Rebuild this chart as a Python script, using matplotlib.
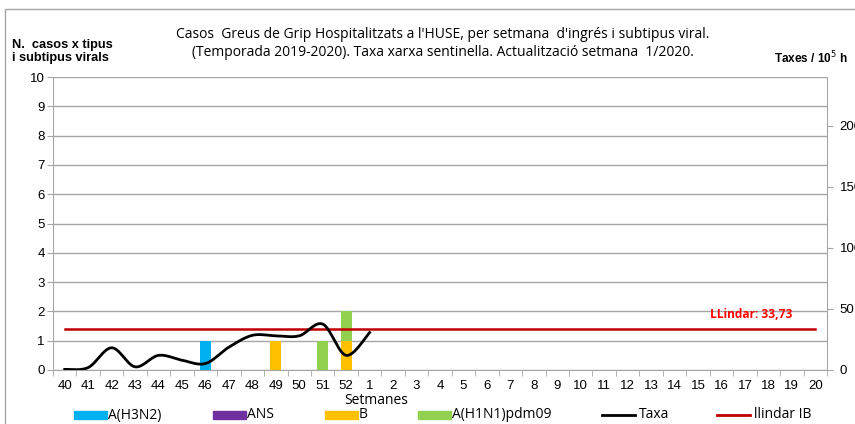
import numpy as np
import matplotlib
matplotlib.use("Agg")
import matplotlib.pyplot as plt
from matplotlib.patches import Rectangle
from matplotlib.lines import Line2D

# ---------------- data ----------------
weeks = ['40', '41', '42', '43', '44', '45', '46', '47', '48', '49', '50', '51', '52',
         '1', '2', '3', '4', '5', '6', '7', '8', '9', '10', '11', '12', '13', '14',
         '15', '16', '17', '18', '19', '20']
h3n2 = [0, 0, 0, 0, 0, 0, 1, 0, 0, 0, 0, 0, 0] + [0] * 20
ans = [0] * 33
b = [0, 0, 0, 0, 0, 0, 0, 0, 0, 1, 0, 0, 1] + [0] * 20
h1n1 = [0, 0, 0, 0, 0, 0, 0, 0, 0, 0, 0, 1, 1] + [0] * 20
taxa = [0.5, 2.0, 18.2, 2.6, 12.0, 8.0, 5.3, 18.7, 28.4, 28.0, 28.0, 37.6, 12.0, 30.7]
llindar = 33.73
llindar_label = "LLindar: 33,73"

series_names = ['A(H3N2)', 'ANS', 'B', 'A(H1N1)pdm09']
series_colors = ['#00B0F0', '#7030A0', '#FFC000', '#92D050']
taxa_color = '#000000'
llindar_color = '#C00000'

title_lines = ["Casos  Greus de Grip Hospitalitzats a l'HUSE, per setmana  d'ingrés i subtipus viral.",
               "(Temporada 2019-2020). Taxa xarxa sentinella. Actualització setmana  1/2020."]

W, H = 855, 424
fig = plt.figure(figsize=(W / 100, H / 100), dpi=100)

def fx(px):
    return px / W

def fy(py):
    return 1 - py / H

# outer chart border
fig.patches.append(Rectangle((fx(5), fy(440)), fx(870) - fx(5), fy(9) - fy(440),
                             transform=fig.transFigure, fill=False,
                             edgecolor='#A6A6A6', lw=1.0))

ax = fig.add_axes([fx(53), fy(370), fx(827) - fx(53), fy(77) - fy(370)])
ax2 = ax.twinx()
ax.set_zorder(2)
ax2.set_zorder(3)
ax.patch.set_visible(False)

x = np.arange(len(weeks))
bottom = np.zeros(len(weeks))
for vals, col in zip([h3n2, ans, b, h1n1], series_colors):
    v = np.array(vals, dtype=float)
    ax.bar(x, v, width=0.48, bottom=bottom, color=col, zorder=3)
    bottom += v

ax.set_xlim(-0.5, len(weeks) - 0.5)
ax.set_ylim(0, 10)
ax.set_yticks(range(0, 11))
ax.grid(axis='y', color='#A6A6A6', lw=1.0, zorder=0)
ax.set_axisbelow(True)
ax.spines['top'].set_visible(False)
ax.spines['left'].set_color('#A6A6A6')
ax.spines['bottom'].set_color('#A6A6A6')
ax.spines['right'].set_visible(False)

ax.set_xticks(x)
ax.set_xticklabels(weeks, fontfamily='Liberation Sans', fontsize=9.5)
ax.tick_params(axis='x', which='major', length=0, pad=7)
ax.set_xticks(np.arange(-0.5, len(weeks)), minor=True)
ax.tick_params(axis='x', which='minor', length=4, color='#A6A6A6', direction='out')
ax.tick_params(axis='y', length=4, color='#A6A6A6', pad=2)
for lab in ax.get_yticklabels():
    lab.set_fontfamily('Liberation Sans')
    lab.set_fontsize(9.5)

# right axis
ax2.set_ylim(0, 240)
ax2.set_yticks([0, 50, 100, 150, 200])
ax2.tick_params(axis='y', length=4, color='#A6A6A6', pad=5)
for lab in ax2.get_yticklabels():
    lab.set_fontfamily('Liberation Sans')
    lab.set_fontsize(9.5)
for s in ['top', 'left', 'bottom']:
    ax2.spines[s].set_visible(False)
ax2.spines['right'].set_color('#A6A6A6')

# smoothed taxa line (Catmull-Rom Bezier like spreadsheet smoothing)
def smooth(xs, ys, n=30):
    xs = np.asarray(xs, float)
    ys = np.asarray(ys, float)
    P = np.column_stack([xs, ys])
    out = []
    for i in range(len(P) - 1):
        p0 = P[i - 1] if i > 0 else P[i]
        p1 = P[i]
        p2 = P[i + 1]
        p3 = P[i + 2] if i + 2 < len(P) else P[i + 1]
        c1 = p1 + (p2 - p0) / 6
        c2 = p2 - (p3 - p1) / 6
        t = np.linspace(0, 1, n)[:, None]
        seg = ((1 - t) ** 3) * p1 + 3 * ((1 - t) ** 2) * t * c1 + 3 * (1 - t) * t ** 2 * c2 + t ** 3 * p2
        out.append(seg if i == 0 else seg[1:])
    return np.vstack(out)

curve = smooth(x[:len(taxa)], taxa)
ax2.plot(curve[:, 0], curve[:, 1], color=taxa_color, lw=2.0, zorder=5)
ax2.plot(x, [llindar] * len(weeks), color=llindar_color, lw=1.8, zorder=4)
ax2.text(fx(710), fy(315), llindar_label, transform=fig.transFigure, color='#FF0000',
         fontsize=8.6, fontweight='bold', fontfamily='Open Sans', va='center', ha='left')

# titles
fig.text(fx(443), fy(35), title_lines[0], ha='center', va='center',
         fontfamily='Open Sans', fontsize=10)
fig.text(fx(443), fy(52), title_lines[1], ha='center', va='center',
         fontfamily='Open Sans', fontsize=10)
fig.text(fx(12), fy(45), "N.  casos x tipus", ha='left', va='center',
         fontfamily='Liberation Sans', fontsize=9.2, fontweight='bold')
fig.text(fx(12), fy(58), "i subtipus virals", ha='left', va='center',
         fontfamily='Liberation Sans', fontsize=9.2, fontweight='bold')
fig.text(fx(774), fy(58), "Taxes / 10$^5$ h", ha='left', va='center',
         fontfamily='Liberation Sans', fontsize=8.5, fontweight='bold')
fig.text(fx(376), fy(401), "Setmanes", ha='center', va='center',
         fontfamily='Open Sans', fontsize=10)

# legend (manual)
leg_y = 415
patch_x = [74, 213, 325, 418]
for px, col, name in zip(patch_x, series_colors, series_names):
    fig.patches.append(Rectangle((fx(px), fy(419)), fx(33), fy(411) - fy(419),
                                 transform=fig.transFigure, color=col))
    fig.text(fx(px + 34), fy(leg_y), name, ha='left', va='center',
             fontfamily='Open Sans', fontsize=10)
for lx, col, name in [(602, taxa_color, 'Taxa'), (717, llindar_color, 'llindar IB')]:
    fig.lines.append(Line2D([fx(lx), fx(lx + 33)], [fy(leg_y), fy(leg_y)],
                            transform=fig.transFigure, color=col, lw=2.0))
    fig.text(fx(lx + 37), fy(leg_y), name, ha='left', va='center',
             fontfamily='Open Sans', fontsize=10)

fig.savefig('out.png', dpi=100)
